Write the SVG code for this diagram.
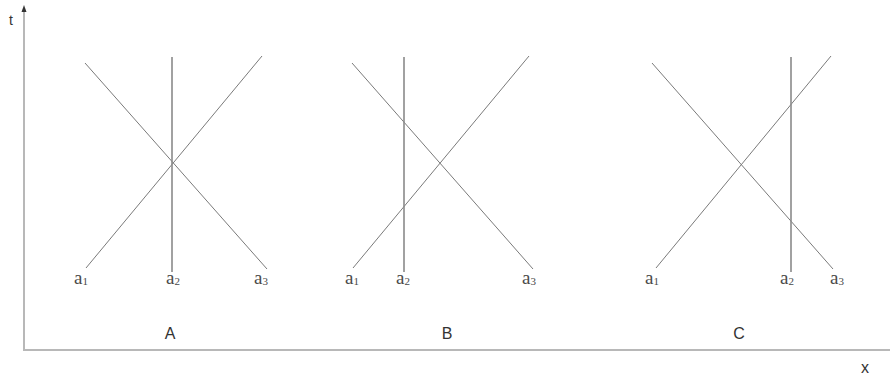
<svg xmlns="http://www.w3.org/2000/svg" width="890" height="375" viewBox="0 0 890 375">
<style>
.axis{stroke:#b8b8b8;stroke-width:2;fill:none}
.diag{stroke:#7a7a7a;stroke-width:1;fill:none}
.vert{stroke:#8a8a8a;stroke-width:1.6;fill:none}
.lbl{font-family:"Liberation Serif",serif;font-size:19px;fill:#4a4a4a}
.sub{font-size:11px}
.cap{font-family:"Liberation Sans",sans-serif;font-size:16px;fill:#333}
</style>
<g id="axes">
<line class="axis" x1="24" y1="350" x2="24" y2="10"/>
<path d="M21.5,12 L24,5 L26.5,12 Z" fill="#333"/>
<line class="axis" x1="23" y1="350" x2="890" y2="350"/>
<text class="cap" x="9" y="25" style="font-size:14px">t</text>
<text class="cap" x="861" y="373">x</text>
</g>
<g id="connectors">
<line class="diag" x1="85" y1="63" x2="267" y2="269"/>
<line class="diag" x1="86" y1="268" x2="262" y2="56"/>
<line class="vert" x1="172" y1="57" x2="172" y2="272"/>
<line class="diag" x1="352" y1="63" x2="533" y2="269"/>
<line class="diag" x1="353" y1="268" x2="529" y2="56"/>
<line class="vert" x1="404" y1="57" x2="404" y2="272"/>
<line class="diag" x1="652" y1="63" x2="833" y2="269"/>
<line class="diag" x1="656" y1="268" x2="831" y2="56"/>
<line class="vert" x1="791" y1="57" x2="791" y2="272"/>
</g>
<g id="panelA">
<text class="lbl" x="74" y="284">a<tspan class="sub" dy="1">1</tspan></text>
<text class="lbl" x="166" y="284">a<tspan class="sub" dy="1">2</tspan></text>
<text class="lbl" x="254" y="284">a<tspan class="sub" dy="1">3</tspan></text>
<text class="cap" x="170" y="339" text-anchor="middle">A</text>
</g>
<g id="panelB">
<text class="lbl" x="345" y="284">a<tspan class="sub" dy="1">1</tspan></text>
<text class="lbl" x="396" y="284">a<tspan class="sub" dy="1">2</tspan></text>
<text class="lbl" x="522" y="284">a<tspan class="sub" dy="1">3</tspan></text>
<text class="cap" x="447" y="339" text-anchor="middle">B</text>
</g>
<g id="panelC">
<text class="lbl" x="645" y="284">a<tspan class="sub" dy="1">1</tspan></text>
<text class="lbl" x="780" y="284">a<tspan class="sub" dy="1">2</tspan></text>
<text class="lbl" x="830" y="284">a<tspan class="sub" dy="1">3</tspan></text>
<text class="cap" x="739" y="339" text-anchor="middle">C</text>
</g>
</svg>
